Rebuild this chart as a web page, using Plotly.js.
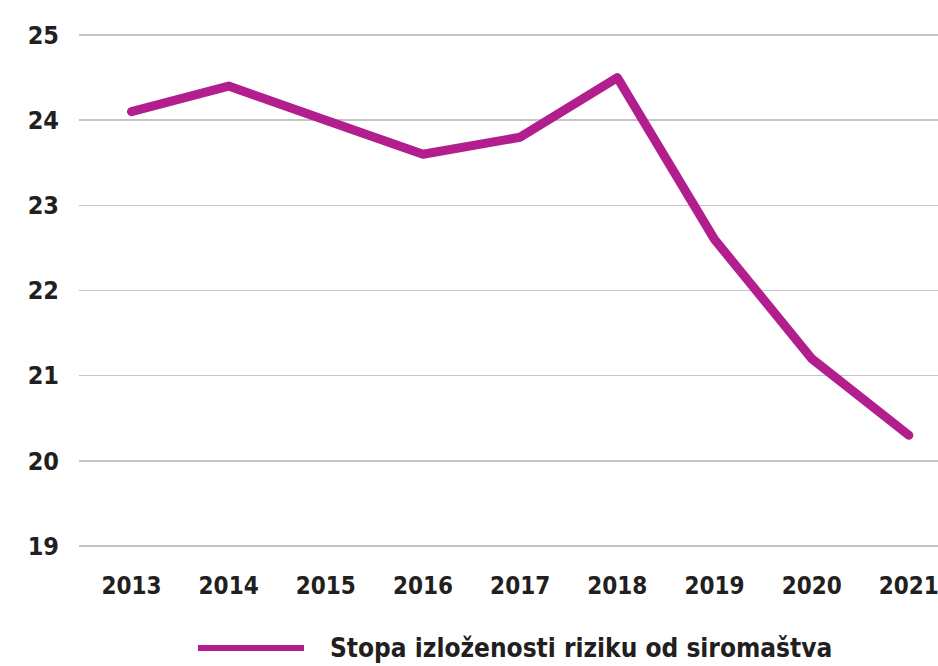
<!DOCTYPE html>
<html>
<head>
<meta charset="utf-8">
<script src="https://cdn.plot.ly/plotly-3.0.1.min.js"></script>
<style>
html,body{margin:0;padding:0;background:#fff;}
#chart{width:938px;height:666px;}
.scatterlayer path.js-line{stroke-linecap:round;stroke-linejoin:round;}
</style>
</head>
<body>
<div id="chart"></div>
<script>
const years = ['2013','2014','2015','2016','2017','2018','2019','2020','2021'];
const rates = [24.1, 24.4, 24.0, 23.6, 23.8, 24.5, 22.6, 21.2, 20.3];
const seriesName = 'Stopa izloženosti riziku od siromaštva';
const yTicks = [19, 20, 21, 22, 23, 24, 25];

const FONT = '"DejaVu Sans Condensed", "Liberation Sans Narrow", "Roboto", sans-serif';
const LINE_COLOR = '#b31e8e';
const TEXT_COLOR = '#231f20';

const trace = {
  x: years,
  y: rates,
  type: 'scatter',
  mode: 'lines',
  name: seriesName,
  line: {color: LINE_COLOR, width: 9},
  showlegend: false,
  hoverinfo: 'x+y'
};

// plot area: top 30, bottom 551 -> 19 at y=546, 25 at y=35
const legY = -(648 - 551) / 521;

const layout = {
  width: 938,
  height: 666,
  margin: {l: 79, r: 0, t: 30, b: 115},
  paper_bgcolor: '#ffffff',
  plot_bgcolor: '#ffffff',
  font: {family: FONT, color: TEXT_COLOR, size: 24, weight: 'bold'},
  xaxis: {
    type: 'category',
    range: [-0.54, 8.30],
    showgrid: false,
    zeroline: false,
    showline: false,
    ticks: '',
    tickfont: {family: FONT, size: 24, color: TEXT_COLOR, weight: 'bold'},
    ticklabelstandoff: 18
  },
  yaxis: {
    range: [18.941, 25.059],
    tickvals: yTicks,
    ticktext: yTicks.map(String),
    showgrid: true,
    gridcolor: '#c4c4c4',
    gridwidth: 1.5,
    zeroline: false,
    showline: false,
    ticks: '',
    tickfont: {family: FONT, size: 25, color: TEXT_COLOR, weight: 'bold'},
    ticklabelstandoff: 19
  },
  shapes: [{
    type: 'line', xref: 'paper', yref: 'paper',
    x0: (198 - 79) / 859, x1: (304 - 79) / 859,
    y0: legY, y1: legY,
    line: {color: LINE_COLOR, width: 6}
  }],
  annotations: [{
    xref: 'paper', yref: 'paper',
    x: (328 - 79) / 859, y: legY,
    xanchor: 'left', yanchor: 'middle',
    text: seriesName,
    showarrow: false,
    font: {family: FONT, size: 26, color: TEXT_COLOR, weight: 'bold'}
  }]
};

Plotly.newPlot('chart', [trace], layout, {displayModeBar: false, staticPlot: true});
</script>
</body>
</html>
